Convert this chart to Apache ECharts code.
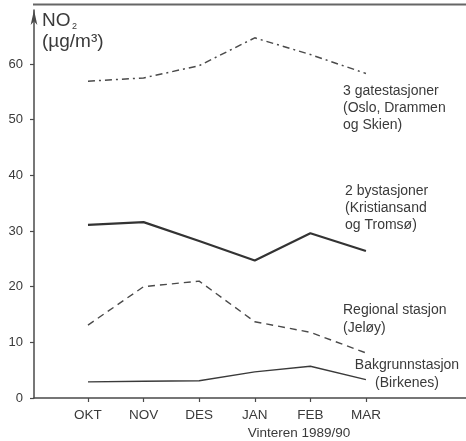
<!DOCTYPE html>
<html>
<head>
<meta charset="utf-8">
<script src="https://cdn.jsdelivr.net/npm/echarts@6/dist/echarts.min.js"></script>
<style>
  html, body { margin: 0; padding: 0; background: #fff; }
  #chart { width: 466px; height: 441px; }
</style>
</head>
<body>
<div id="chart"></div>
<script>
// NO2 monthly means, winter 1989/90
const months = ['OKT', 'NOV', 'DES', 'JAN', 'FEB', 'MAR'];
const gatestasjoner = [56.9, 57.5, 59.7, 64.7, 61.7, 58.3];
const bystasjoner = [31.1, 31.6, 28.2, 24.7, 29.6, 26.4];
const regional = [13.1, 20.0, 21.0, 13.7, 11.8, 8.1];
const bakgrunn = [2.9, 3.0, 3.1, 4.7, 5.7, 3.3];
const yTicks = [0, 10, 20, 30, 40, 50, 60];

const seriesLabels = [
  '3 gatestasjoner\n(Oslo, Drammen\nog Skien)',
  '2 bystasjoner\n(Kristiansand\nog Tromsø)',
  'Regional stasjon\n(Jeløy)',
  'Bakgrunnstasjon\n(Birkenes)'
];
const xTitle = 'Vinteren 1989/90';

const FONT = '"Liberation Sans", Arial, Helvetica, sans-serif';
const INK = '#3a3a3a';
const monthIdx = months.map((m, i) => i);
const pts = arr => months.map((m, i) => [i, arr[i]]);

const chart = echarts.init(document.getElementById('chart'), null, { renderer: 'canvas' });

function lineSeries(name, arr, width, type, color) {
  return {
    name, type: 'line', data: pts(arr), symbol: 'none', silent: true,
    lineStyle: { color, width, type, cap: 'butt' }, z: 3
  };
}

chart.setOption({
  animation: false,
  backgroundColor: '#fff',
  grid: { left: 34, right: 0, top: 10, bottom: 43 },
  xAxis: {
    type: 'value', min: -0.971, max: 6.80,
    axisLine: { show: true, onZero: false, lineStyle: { color: '#4a4a4a', width: 1.5 } },
    axisTick: { show: true, length: 4, customValues: monthIdx, lineStyle: { color: '#4a4a4a', width: 1.2 } },
    axisLabel: {
      customValues: monthIdx, margin: 10,
      formatter: v => months[Math.round(v)] || '',
      color: INK, fontFamily: FONT, fontSize: 13.5
    },
    splitLine: { show: false }
  },
  yAxis: {
    type: 'value', min: 0, max: 69.7,
    axisLine: {
      show: true, onZero: false, symbol: ['none', 'arrow'], symbolSize: [5, 15],
      lineStyle: { color: '#4a4a4a', width: 1.5 }
    },
    axisTick: { show: true, length: 4, customValues: yTicks, lineStyle: { color: '#4a4a4a', width: 1.2 } },
    axisLabel: { customValues: yTicks, margin: 11, color: INK, fontFamily: FONT, fontSize: 13 },
    splitLine: { show: false }
  },
  series: [
    lineSeries('3 gatestasjoner', gatestasjoner, 1.5, [7, 4, 2, 4], '#4a4a4a'),
    lineSeries('2 bystasjoner', bystasjoner, 2.2, 'solid', '#333'),
    lineSeries('Regional stasjon', regional, 1.4, [7, 5], '#4a4a4a'),
    lineSeries('Bakgrunnstasjon', bakgrunn, 1.4, 'solid', '#3a3a3a')
  ],
  graphic: [
    // frame rule along the top edge
    { type: 'line', shape: { x1: 33, y1: 4.5, x2: 466, y2: 4.5 }, style: { stroke: '#666', lineWidth: 2 }, silent: true },
    // y-axis unit
    { type: 'text', left: 42, top: 11, style: { text: 'NO', font: '19px ' + FONT, fill: INK }, silent: true },
    { type: 'text', left: 72, top: 22, style: { text: '2', font: '9px ' + FONT, fill: INK }, silent: true },
    { type: 'text', left: 42, top: 32, style: { text: '(µg/m³)', font: '19px ' + FONT, fill: INK }, silent: true },
    // series annotations
    { type: 'text', left: 343, top: 83, style: { text: seriesLabels[0], font: '14px ' + FONT, lineHeight: 17, fill: INK }, silent: true },
    { type: 'text', left: 345, top: 183, style: { text: seriesLabels[1], font: '14px ' + FONT, lineHeight: 17, fill: INK }, silent: true },
    { type: 'text', left: 343, top: 301, style: { text: seriesLabels[2], font: '14px ' + FONT, lineHeight: 18, fill: INK }, silent: true },
    { type: 'text', x: 407, y: 356, style: { text: seriesLabels[3], font: '14px ' + FONT, lineHeight: 18, fill: INK, align: 'center', verticalAlign: 'top' }, silent: true },
    // x-axis title
    { type: 'text', x: 299, y: 433, style: { text: xTitle, font: '13.5px ' + FONT, fill: INK, align: 'center', verticalAlign: 'middle' }, silent: true }
  ]
});
</script>
</body>
</html>
